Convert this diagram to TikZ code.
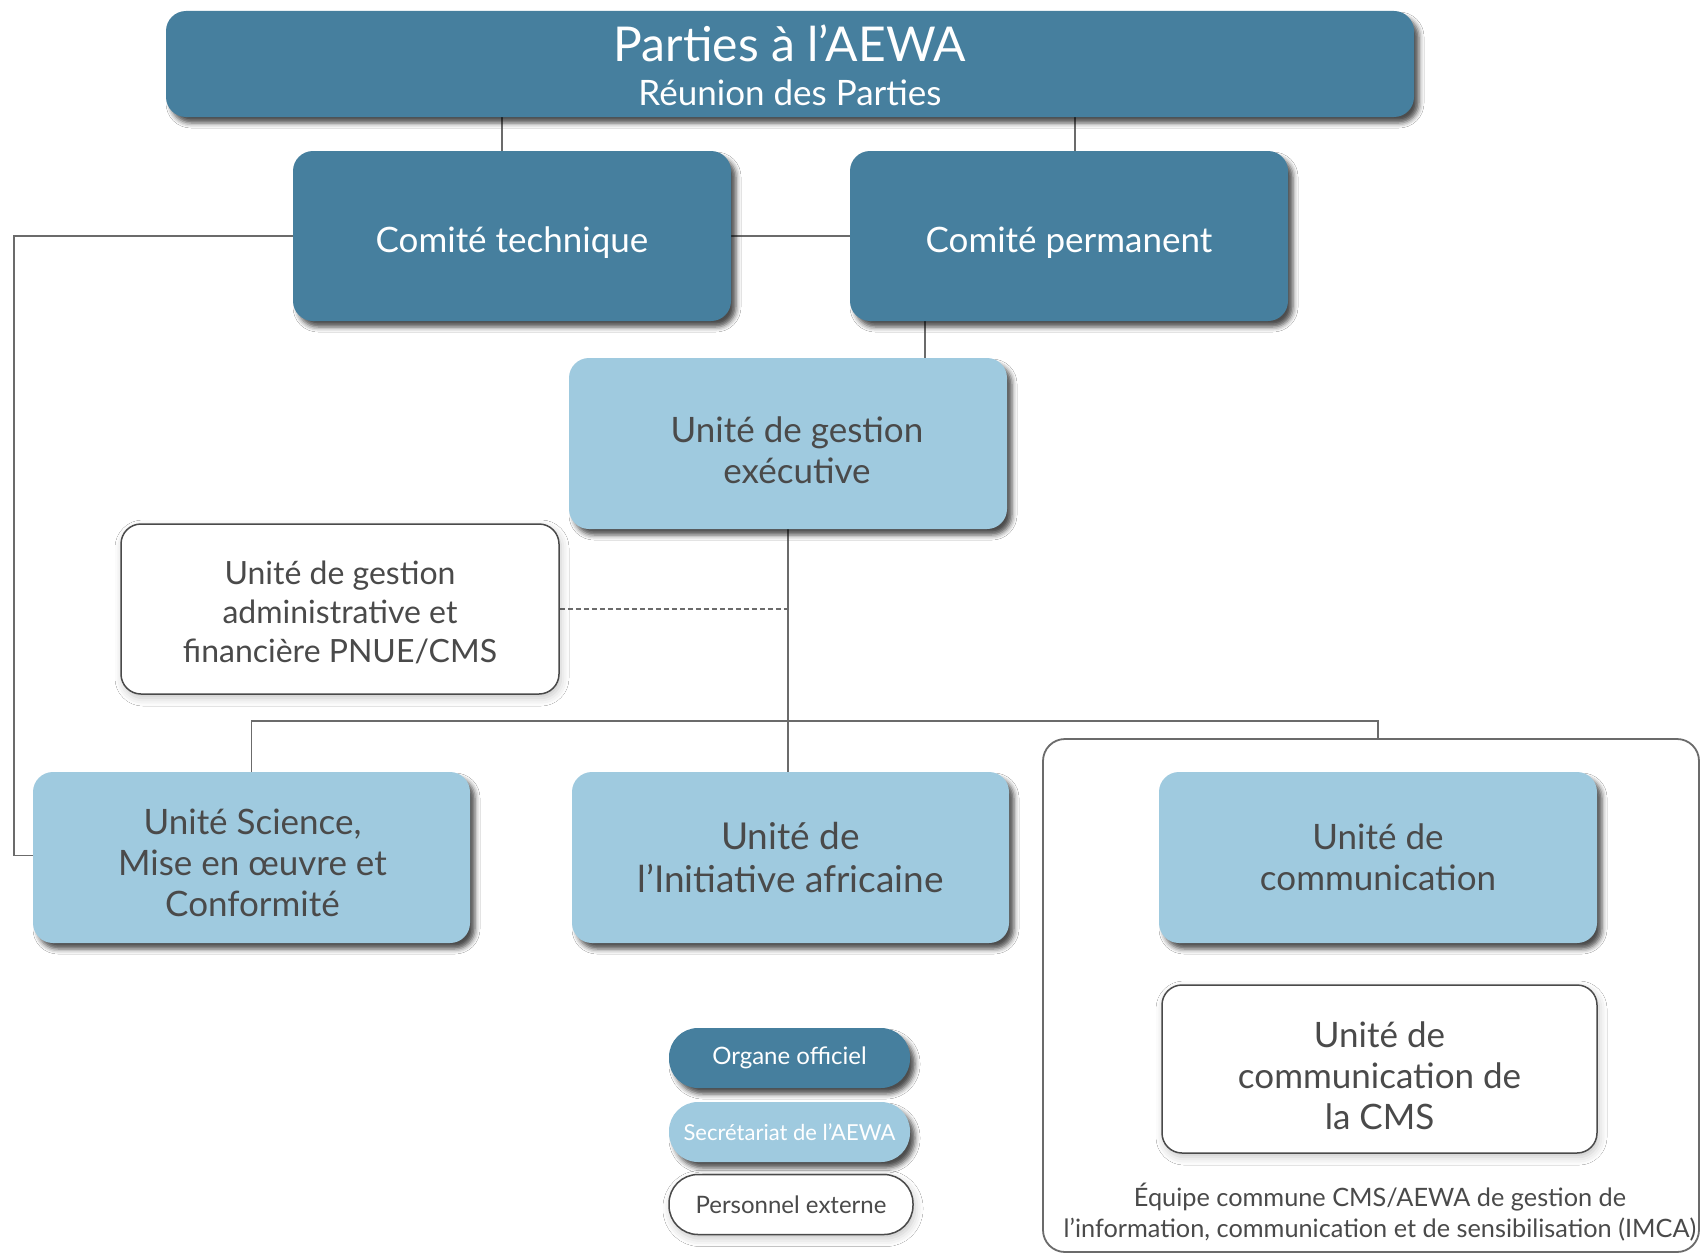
\documentclass[tikz,border=0pt]{standalone}
\usepackage{fontspec}
\setmainfont{Lato}
\usetikzlibrary{shadows.blur,backgrounds,calc}
\definecolor{darkb}{HTML}{467F9E}
\definecolor{lightb}{HTML}{9FCADF}
\definecolor{txt}{HTML}{4A4A4A}
\definecolor{connc}{HTML}{6B6B6B}
\tikzset{
  boxbase/.style={rounded corners=20pt, minimum width=438pt, minimum height=170pt, align=center, inner sep=0pt},
  shad/.style={blur shadow={shadow xshift=5pt,shadow yshift=-6pt,shadow blur radius=5pt,shadow opacity=70}},
  lshad/.style={blur shadow={shadow xshift=2pt,shadow yshift=-4pt,shadow blur radius=8pt,shadow opacity=22}},
  darkbox/.style={boxbase, fill=darkb, shad},
  lightbox/.style={boxbase, fill=lightb, shad},
  whitebox/.style={boxbase, fill=white, draw=txt, line width=1.5pt, lshad},
  wlabel/.style={text=white, align=center, inner sep=0pt},
  dlabel/.style={text=txt, align=center, inner sep=0pt},
  pill/.style={rounded corners=29pt, minimum width=241pt, minimum height=60pt, inner sep=0pt, font=\fontsize{24}{28}\selectfont},
  connline/.style={draw=connc, line width=1.8pt},
  big/.style={font=\fontsize{35}{41}\selectfont},
}
\begin{document}
\begin{tikzpicture}[x=1pt,y=-1pt]
\useasboundingbox (0,0) rectangle (1703,1255);
% container
\node[draw=connc, line width=1.8pt, rounded corners=22pt, minimum width=656pt, minimum height=513pt, inner sep=0pt] (team) at (1371,995.5) {};
\node[text=txt, align=center, font=\fontsize{25.3}{31}\selectfont] (teamlbl) at (1380,1212) {Équipe commune CMS/AEWA de gestion de\\l’information, communication et de sensibilisation (IMCA)};

\node[darkbox, minimum width=1248pt, minimum height=106pt] (top) at (790,64) {};
\node[wlabel, font=\fontsize{48}{50}\selectfont] (topt) at ([yshift=-1pt]top.center)
  {Parties à l’AEWA\\[-6pt]{\fontsize{35}{38}\selectfont Réunion des Parties}};
\node[darkbox] (ct) at (512,236) {};
\node[wlabel, big] (ctt) at ([yshift=-6.5pt]ct.center) {Comité technique};
\node[darkbox] (cp) at (1069,236) {};
\node[wlabel, big] (cpt) at ([yshift=-6.5pt]cp.center) {Comité permanent};
\node[lightbox, minimum height=171pt] (uge) at (788,443.5) {};
\node[dlabel, big] (uget) at ([xshift=9pt,yshift=-6.5pt]uge.center) {Unité de gestion\\exécutive};
\node[whitebox] (adm) at (340,609) {};
\node[dlabel, font=\fontsize{32}{39}\selectfont] (admt) at ([yshift=-3pt]adm.center) {Unité de gestion\\administrative et\\financière PNUE/CMS};
\node[lightbox, minimum width=437pt, minimum height=171pt] (sci) at (251.5,857.5) {};
\node[dlabel, big] (scit) at ([xshift=1pt,yshift=-5pt]sci.center) {Unité Science,\\Mise en œuvre et\\Conformité};
\node[lightbox, minimum width=437pt, minimum height=171pt] (ini) at (790.5,857.5) {};
\node[dlabel, font=\fontsize{37}{43}\selectfont] (init) at (ini.center) {Unité de\\l’Initiative africaine};
\node[lightbox, minimum height=171pt] (com) at (1378,857.5) {};
\node[dlabel, big] (comt) at (com.center) {Unité de\\communication};
\node[whitebox, minimum width=435pt, minimum height=168pt] (cms) at (1379.5,1069) {};
\node[dlabel, big] (cmst) at ([yshift=-7pt]cms.center) {Unité de\\communication de\\la CMS};

% legend
\node[pill, fill=darkb, text=white, shad] (lg1) at (789.5,1058) {Organe officiel};
\node[pill, fill=lightb, text=white, shad, font=\fontsize{22}{26}\selectfont] (lg2) at (789.5,1132) {Secrétariat de l’AEWA};
\node[pill, fill=white, draw=txt, line width=1.5pt, text=txt, lshad, minimum width=244pt] (lg3) at (791,1204.5) {Personnel externe};

\coordinate (lft) at (14,500);
\coordinate (bus) at (0,721);
\begin{scope}[on background layer]
\fill[white] (0,0) rectangle (1703,1255);
\draw[connline] ([xshift=-10pt]ct.north) -- ([xshift=-10pt]ct.north |- top.south);
\draw[connline] ([xshift=6pt]cp.north) -- ([xshift=6pt]cp.north |- top.south);
\draw[connline] (ct.east) -- (cp.west);
\draw[connline] (ct.west) -| (lft) |- ([yshift=2pt]sci.west);
\draw[connline] ([xshift=-144pt]cp.south) -- ([xshift=-144pt]cp.south |- uge.north);
\draw[connline] (uge.south) -- (uge.south |- ini.north);
\draw[connline, dashed, dash pattern=on 5pt off 3pt, line width=1.4pt] (adm.east) -- (adm.east -| uge.south);
\draw[connline] (sci.north) |- (com.north |- bus) -- (com.north |- team.north);
\end{scope}
\end{tikzpicture}
\end{document}
